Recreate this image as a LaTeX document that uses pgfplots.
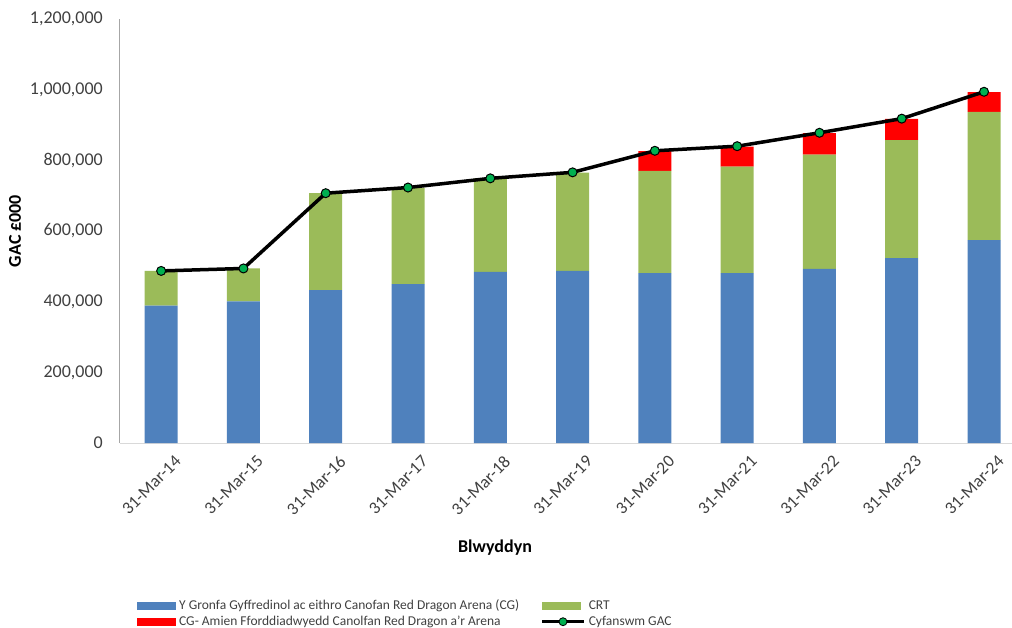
\documentclass[border=0pt]{standalone}
\usepackage{fontspec}
\setmainfont{Carlito}
\usepackage{pgfplots}
\usepackage{pgfplotstable}
\pgfplotsset{compat=1.18}

\definecolor{cgblue}{HTML}{4F81BD}
\definecolor{crtgreen}{HTML}{9BBB59}
\definecolor{arenared}{HTML}{FF0000}
\definecolor{mkgreen}{HTML}{00B050}
\definecolor{txtgrey}{HTML}{404040}
\definecolor{yaxgrey}{HTML}{A6A6A6}
\definecolor{xaxgrey}{HTML}{D9D9D9}

% GAC in £000
\pgfplotstableread{
x  cg     crt    arena  total
0  389000 98000  0      487000
1  401000 93000  0      494000
2  433000 274000 0      707000
3  450000 273000 0      723000
4  484000 265000 0      749000
5  487000 278000 0      766000
6  481000 289000 56000  827000
7  481000 301000 57000  840000
8  493000 323000 61000  878000
9  523000 334000 60000  918000
10 574000 363000 56000  994000
}\gacdata

\pgfplotsset{
  gacbase/.style={
    scale only axis, width=892bp, height=424bp,
    xmin=-0.5, xmax=10.34, ymin=0, ymax=1200000,
    at={(0,0)}, anchor=south west,
  },
  barlegend/.style={legend image code/.code={\fill[##1] (0bp,-4bp) rectangle (39bp,4bp);}},
}

\begin{document}
\begin{tikzpicture}
\useasboundingbox (-120bp,-185bp) rectangle (892bp,443bp);

\begin{axis}[
    gacbase,
    ybar stacked,
    bar width=33bp,
    axis x line=bottom,
    axis y line=left,
    x axis line style={-, draw=xaxgrey, line width=1bp},
    y axis line style={-, draw=yaxgrey, line width=1bp},
    major tick length=0pt,
    xtick={0,...,10},
    xticklabels={31-Mar-14,31-Mar-15,31-Mar-16,31-Mar-17,31-Mar-18,31-Mar-19,31-Mar-20,31-Mar-21,31-Mar-22,31-Mar-23,31-Mar-24},
    xticklabel style={rotate=45, anchor=north east, inner sep=0pt, yshift=-17bp, xshift=1bp,
      font=\fontsize{17.5bp}{20bp}\selectfont, text=txtgrey},
    ytick={0,200000,...,1200000},
    scaled y ticks=false,
    /pgf/number format/.cd, fixed, precision=0, 1000 sep={,}, assume math mode=true,
    /pgfplots/.cd,
    yticklabel style={anchor=east, inner sep=0pt, xshift=-17bp,
      font=\fontsize{18bp}{21bp}\selectfont, text=txtgrey},
    ylabel={GAC £000},
    every axis y label/.style={at={(axis description cs:-0.1177,0.5)}, rotate=90, anchor=center,
      font=\bfseries\fontsize{18bp}{21bp}\selectfont},
    xlabel={Blwyddyn},
    every axis x label/.style={at={(axis description cs:0.4204,-0.2476)}, anchor=center,
      font=\bfseries\fontsize{18bp}{21bp}\selectfont},
    legend columns=2,
    legend cell align=left,
    legend style={at={(axis description cs:0.019,-0.3656)}, anchor=north west,
      draw=none, fill=none, inner sep=0pt, row sep=1bp,
      font=\fontsize{13.5bp}{16bp}\selectfont, text=txtgrey,
      nodes={inner sep=1bp, text height=10bp, text depth=3bp},
      /tikz/every odd column/.append style={column sep=2bp},
      /tikz/every even column/.append style={column sep=20bp}},
]
\addplot[fill=cgblue, draw=none, barlegend] table[x=x, y=cg] {\gacdata};
\addlegendentry{Y Gronfa Gyffredinol ac eithro Canofan Red Dragon Arena (CG)}
\addplot[fill=crtgreen, draw=none, barlegend] table[x=x, y=crt] {\gacdata};
\addlegendentry{CRT}
\addplot[fill=arenared, draw=none, barlegend] table[x=x, y=arena] {\gacdata};
\addlegendentry{CG- Amien Fforddiadwyedd Canolfan Red Dragon a'r Arena}
\addlegendimage{legend image code/.code={
    \draw[black, line width=3.5bp] (0bp,0bp) -- (42bp,0bp);
    \filldraw[fill=mkgreen, draw=black, line width=0.8bp] (21bp,0bp) circle (4bp);}}
\addlegendentry{Cyfanswm GAC}
\end{axis}

\begin{axis}[gacbase, hide axis]
\addplot[black, line width=3.5bp, mark=*, mark size=4.5bp,
  mark options={fill=mkgreen, draw=black, line width=1bp}] table[x=x, y=total] {\gacdata};
\end{axis}
\end{tikzpicture}
\end{document}
